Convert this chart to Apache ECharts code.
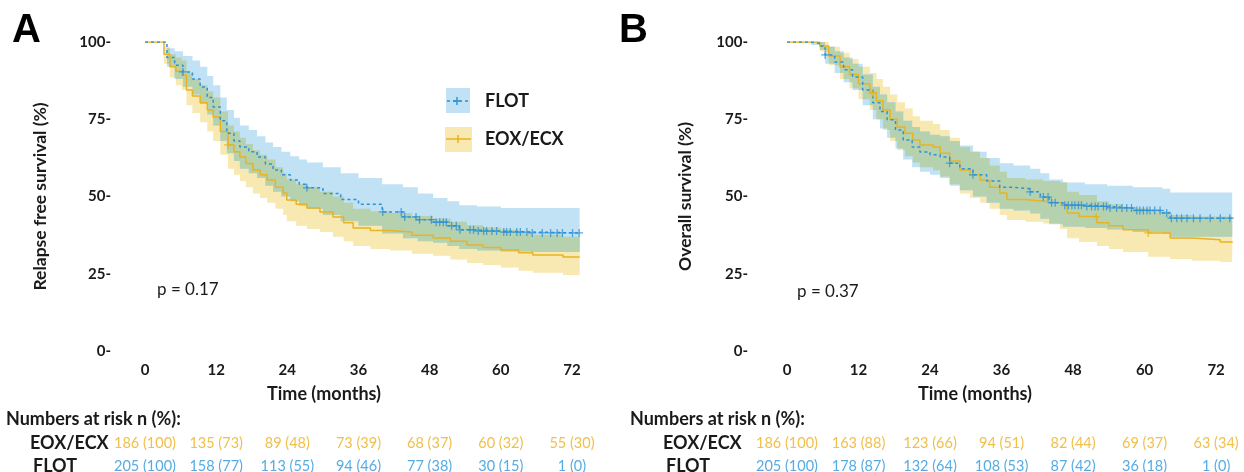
<!DOCTYPE html>
<html><head><meta charset="utf-8">
<script src="https://cdn.jsdelivr.net/npm/echarts@6/dist/echarts.min.js"></script>
<style>html,body{margin:0;padding:0;background:#fff}#c{width:1244px;height:472px}</style>
</head><body><div id="c"></div>
<script>
// ---------- Panel A: Relapse free survival ----------
const A_FLOT_t = [0,2.4,3.7,5,6.4,8,9.3,10.5,11.5,12.7,13.8,15,16,17.5,18.9,20.3,21.6,23,24.5,26,27.3,30,33,36,40,43.5,46,48.6,51,53,56,60,65,73.3];
const A_FLOT_s = [100,100,95,92.5,90.3,88,85.4,82,79,74.5,70.5,68,66,64.5,62.8,60.5,58.6,57,55.3,54,52.8,51,49,47.5,45,43.4,42.5,41.7,40.5,39.2,38.8,38.5,38.2,38.2];
const A_FLOT_hi = [100,100,98,97,95.5,94,92,89,86,82,78,75.5,73,71.5,69.5,67.5,66,64.5,63,62,61,59.5,57.5,56,54,53,51,49.5,48.5,47.2,46.8,46.3,46.3,46.3];
const A_FLOT_lo = [100,100,92,88,85.5,83,80,76.5,73,68,64,61.5,59,57.5,56,53.5,51.5,50,48.5,47,46,44,42,40.5,38,36.5,35.5,35,34,33,32.5,32.2,32,32];
const A_FLOT_cens = [6.4,27.3,40.1,43.2,43.8,45.7,46.3,48.3,49.1,49.7,50.3,50.8,51.7,52.5,53.1,54.8,55.4,56.2,57.1,57.6,58.5,59.3,60.5,61,61.6,62.7,63.3,64.4,65.3,67,68.4,69.5,70.4,72.1,73.2];

const A_EOX_t = [0,2.4,3.2,4.2,5.2,6.2,7,8,9.3,10.5,11.5,12.7,14,15,16,17,18.2,19.4,20.6,22,23.3,23.9,25.5,27.3,29.5,31.7,33.5,35.1,38,41.3,45,48.6,51.5,54.3,57,60,63,65.4,70.5,73.3];
const A_EOX_s = [100,100,96,92,90.5,89.3,84.5,82.5,80.3,78,75.7,71,66.7,64.5,62.8,60.7,58.6,57,55.3,53,51.1,48.9,47.5,46.3,45,43.4,41.5,39.8,39,38.5,37.5,36.6,35.5,34.3,33.5,32.7,31.8,31.1,30.4,30.4];
const A_EOX_hi = [100,100,98.5,96,95,94,90,88,86,84,82,77.5,73,71,69,67,65,63.5,62,59.5,57.5,55.5,54,53,51.5,50,48,46,45.2,44.7,43.7,42.8,41.8,40.7,40,39.2,38.3,37.6,37,37];
const A_EOX_lo = [100,100,93,88.5,86,84.5,79.5,77,74,71,68,63.5,59,57,55,53,51,49.5,48,46,44,42,40.5,39.5,38.5,37,35.5,34,33,32.5,31.5,30.8,29.6,28.5,27.8,27,26,25.3,24.6,24.6];
const A_EOX_cens = [14];

// ---------- Panel B: Overall survival ----------
const B_FLOT_t = [0,4,5.5,6.4,8,9.5,11,12.7,14.4,15.6,16.8,18.2,19.5,21,22.3,24,25.7,27.3,29,31.2,33.5,35.7,38,40.8,42.5,44,46.3,50,53.7,58,63,64.3,74.7];
const B_FLOT_s = [100,99.5,98.7,95.8,93.5,91,88.7,84.5,80.3,77.5,74.8,71.5,68.3,66,64.4,63.5,62.8,60.8,59,57,55,53,52.5,51.5,49.8,48,47.2,46.8,46.3,45.5,44.7,43,43];
const B_FLOT_hi = [100,100,100,98.5,97,95,93,89.5,85.5,83,80.5,77.5,74.5,72.5,71,70,69.5,68,66.5,64.5,62.5,60.8,60,59,57.5,55.5,54.5,54,53.5,53,52.5,51.3,51.3];
const B_FLOT_lo = [100,99,97.5,93,90,87,84.5,79.5,75,72,69,65.5,62,59.5,58,57,56,53.5,52,50,48,46,45.5,44.5,42.8,41,40.2,39.8,39.3,38.5,38,37,37];
const B_FLOT_cens = [6.4,27.3,31.2,40.8,43,43.8,44.4,45,46.6,47.2,47.8,48.3,48.9,49.4,50.3,51.1,51.7,52.2,53.1,53.6,54.2,55.3,56.2,57,57.8,58.7,59.2,59.8,60.4,60.9,61.7,62.6,63.7,64.5,65.4,66.2,67.1,68.2,69.3,71,72.7,74.3];

const B_EOX_t = [0,5.5,7,8.9,10.5,12,13.9,15,16.1,17.3,18.5,19.8,21.1,22.3,24.5,25.7,27.3,29,30.7,32.4,34,35.7,36.9,40,43,45.8,47,49,52,54,56.4,60.6,64.3,68,72.7,74.7];
const B_EOX_s = [100,98.7,95.5,92,89.5,86.5,83.5,81,78,75,72.5,70.5,68.3,66.7,66,64,61.5,58.6,57,55.3,53,51.1,49,48.5,48,47.6,44.7,43.5,41.5,40.5,39.2,38.2,36.6,36,35.3,35];
const B_EOX_hi = [100,100,98.5,96.5,94.5,92,90,88,85.5,83,80.5,78.5,76,74.5,73.5,71.5,69,66,64.5,62.5,60,58,56,55.5,55,54.5,51.5,50.5,48.5,47.5,46.2,45.2,44,43.5,43.5,43.5];
const B_EOX_lo = [100,97,92.5,88,85,81.5,78,75,71.5,68,65,63,61,59.5,58.5,56.5,54,51,49.5,48,46,44,42.4,41.8,41.3,39.5,36.5,35.3,34,33,32,30.5,29.8,29.2,28.8,28.8];
const B_EOX_cens = [14.3,51.9,60.6];

// ---------- Numbers at risk ----------
const riskTimes = [0,12,24,36,48,60,72];
const A_EOX_n = [186,135,89,73,68,60,55];
const A_EOX_pct = [100,73,48,39,37,32,30];
const A_FLOT_n = [205,158,113,94,77,30,1];
const A_FLOT_pct = [100,77,55,46,38,15,0];
const B_EOX_n = [186,163,123,94,82,69,63];
const B_EOX_pct = [100,88,66,51,44,37,34];
const B_FLOT_n = [205,178,132,108,87,36,1];
const B_FLOT_pct = [100,87,64,53,42,18,0];

const xTicks = [0,12,24,36,48,60,72];
const yTicks = [0,25,50,75,100];
const pValues = ['p = 0.17','p = 0.37'];
const yTitles = ['Relapse free survival (%)','Overall survival (%)'];

const BLUE = '#2e92d6', GOLD = '#e9b321';
const BLUE_BAND = '#c1e1f5', GOLD_BAND = '#f8e8b2', OVERLAP = '#b6d1ae';
const BLUE_TXT = '#55ace4', GOLD_TXT = '#f1c04a';
const FONT = 'Lato';
const CROSS = 'path://M-0.16,-1H0.16V-0.16H1V0.16H0.16V1H-0.16V0.16H-1V-0.16H-0.16Z';

function stepAt(ts, vs, t){ let v = vs[0]; for (let i=0;i<ts.length;i++){ if (ts[i] <= t) v = vs[i]; else break; } return v; }

// overlap of two step-function confidence bands (derived from the band arrays)
function overlap(t1, lo1, hi1, t2, lo2, hi2){
  const end = Math.min(t1[t1.length-1], t2[t2.length-1]);
  const T = Array.from(new Set(t1.concat(t2))).filter(t => t <= end).sort((a,b)=>a-b);
  const hi = [], lo = [];
  T.forEach(t => {
    const h = Math.min(stepAt(t1,hi1,t), stepAt(t2,hi2,t));
    const l = Math.max(stepAt(t1,lo1,t), stepAt(t2,lo2,t));
    hi.push(Math.max(h,l)); lo.push(l);
  });
  return {t:T, lo:lo, hi:hi};
}

function band(gi, ts, lo, hi, color, z){
  return { type:'custom', xAxisIndex:gi, yAxisIndex:gi, z:z, silent:true, clip:true, data:[[0,0]],
    renderItem:function(p, api){
      const pts = [];
      for (let i=0;i<ts.length;i++){ if (i>0) pts.push(api.coord([ts[i],hi[i-1]])); pts.push(api.coord([ts[i],hi[i]])); }
      for (let i=ts.length-1;i>=0;i--){ pts.push(api.coord([ts[i],lo[i]])); if (i>0) pts.push(api.coord([ts[i],lo[i-1]])); }
      return { type:'polygon', shape:{points:pts}, style:{fill:color} };
    } };
}
function curve(gi, ts, ss, color, dashed){
  return { type:'line', xAxisIndex:gi, yAxisIndex:gi, step:'end', symbol:'none', z:5, silent:true,
    data: ts.map((t,i)=>[t, ss[i]]),
    lineStyle:{color:color, width:1.5, type: dashed ? [3,3] : 'solid'} };
}
function censor(gi, cens, ts, ss, color){
  return { type:'scatter', xAxisIndex:gi, yAxisIndex:gi, z:6, silent:true, symbol:CROSS, symbolSize:8,
    data: cens.map(t=>[t, stepAt(ts, ss, t)]), itemStyle:{color:color} };
}

function xAxis(gi){
  return { gridIndex:gi, type:'value', min:0, max:75, interval:12,
    axisLine:{show:false}, axisTick:{show:false}, splitLine:{show:false},
    axisLabel:{ color:'#1a1a1a', fontFamily:FONT, fontWeight:'bold', fontSize:15, margin:12,
      formatter: v => xTicks.indexOf(v) >= 0 ? String(v) : '' } };
}
function yAxis(gi){
  return { gridIndex:gi, type:'value', min:0, max:100, interval:25,
    axisLine:{show:false}, axisTick:{show:false}, splitLine:{show:false},
    name: yTitles[gi], nameLocation:'middle', nameGap: gi===0 ? 96 : 93,
    nameTextStyle:{ color:'#1a1a1a', fontFamily:FONT, fontWeight:'bold', fontSize:17.5 },
    axisLabel:{ color:'#1a1a1a', fontFamily:FONT, fontWeight:'bold', fontSize:15, margin: gi===0 ? 34 : 39,
      formatter: v => yTicks.indexOf(v) >= 0 ? v + '-' : '' } };
}

const OA = overlap(A_EOX_t, A_EOX_lo, A_EOX_hi, A_FLOT_t, A_FLOT_lo, A_FLOT_hi);
const OB = overlap(B_EOX_t, B_EOX_lo, B_EOX_hi, B_FLOT_t, B_FLOT_lo, B_FLOT_hi);

const chart = echarts.init(document.getElementById('c'), null, {renderer:'canvas'});
chart.setOption({
  backgroundColor:'#ffffff',
  animation:false,
  grid:[ {left:145, top:42, width:444.75, height:309}, {left:787, top:42, width:447, height:309} ],
  xAxis:[xAxis(0), xAxis(1)],
  yAxis:[yAxis(0), yAxis(1)],
  series:[
    band(0, A_EOX_t, A_EOX_lo, A_EOX_hi, GOLD_BAND, 1),
    band(0, A_FLOT_t, A_FLOT_lo, A_FLOT_hi, BLUE_BAND, 2),
    band(0, OA.t, OA.lo, OA.hi, OVERLAP, 3),
    curve(0, A_EOX_t, A_EOX_s, GOLD, false),
    curve(0, A_FLOT_t, A_FLOT_s, BLUE, true),
    censor(0, A_EOX_cens, A_EOX_t, A_EOX_s, GOLD),
    censor(0, A_FLOT_cens, A_FLOT_t, A_FLOT_s, BLUE),
    band(1, B_EOX_t, B_EOX_lo, B_EOX_hi, GOLD_BAND, 1),
    band(1, B_FLOT_t, B_FLOT_lo, B_FLOT_hi, BLUE_BAND, 2),
    band(1, OB.t, OB.lo, OB.hi, OVERLAP, 3),
    curve(1, B_EOX_t, B_EOX_s, GOLD, false),
    curve(1, B_FLOT_t, B_FLOT_s, BLUE, true),
    censor(1, B_EOX_cens, B_EOX_t, B_EOX_s, GOLD),
    censor(1, B_FLOT_cens, B_FLOT_t, B_FLOT_s, BLUE)
  ]
});

// ---------- text & legend graphics ----------
const g = [];
function txt(x, y, s, o){ g.push({ type:'text', x:x, y:y, silent:true,
  style:Object.assign({ text:s, fill:'#1a1a1a', font:'bold 16px ' + FONT, textAlign:'left', textVerticalAlign:'middle' }, o || {}) }); }
function seg(x1, y1, x2, y2, color, dash){ g.push({ type:'line', silent:true, shape:{x1:x1,y1:y1,x2:x2,y2:y2},
  style:{stroke:color, lineWidth:1.5, lineDash: dash || null} }); }

txt(12, 31, 'A', {font:'bold 40px "Liberation Sans"', fill:'#000'});
txt(619, 31, 'B', {font:'bold 40px "Liberation Sans"', fill:'#000'});
txt(157, 290, pValues[0], {font:'17px ' + FONT});
txt(797, 292, pValues[1], {font:'17px ' + FONT});

// x-axis titles
txt(324, 394, 'Time (months)', {textAlign:'center', font:'bold 18px ' + FONT});
txt(975, 394, 'Time (months)', {textAlign:'center', font:'bold 18px ' + FONT});

// legend
g.push({type:'rect', silent:true, shape:{x:446, y:88, width:24, height:25}, style:{fill:BLUE_BAND}});
seg(447, 101, 469, 101, BLUE, [3,3]);
seg(457, 97, 457, 105, BLUE); seg(453, 101, 461, 101, BLUE);
txt(485, 101, 'FLOT', {font:'bold 18px ' + FONT});
g.push({type:'rect', silent:true, shape:{x:445, y:127, width:27, height:25}, style:{fill:GOLD_BAND}});
seg(446, 139, 471, 139, GOLD);
seg(458, 135, 458, 143, GOLD);
txt(485, 139, 'EOX/ECX', {font:'bold 18px ' + FONT});

// numbers at risk
const tables = [
  {gi:0, hx:6, lx:30, eN:A_EOX_n, eP:A_EOX_pct, fN:A_FLOT_n, fP:A_FLOT_pct},
  {gi:1, hx:630, lx:663, eN:B_EOX_n, eP:B_EOX_pct, fN:B_FLOT_n, fP:B_FLOT_pct}
];
tables.forEach(tb => {
  txt(tb.hx, 419, 'Numbers at risk n (%):', {font:'bold 18px ' + FONT});
  txt(tb.lx, 443, 'EOX/ECX', {font:'bold 18px ' + FONT});
  txt(tb.lx + 3, 466, 'FLOT', {font:'bold 18px ' + FONT});
  riskTimes.forEach((t, i) => {
    const x = chart.convertToPixel({xAxisIndex:tb.gi}, t);
    txt(x, 443, tb.eN[i] + ' (' + tb.eP[i] + ')', {font:'14.5px ' + FONT, fill:GOLD_TXT, textAlign:'center'});
    txt(x, 466, tb.fN[i] + ' (' + tb.fP[i] + ')', {font:'14.5px ' + FONT, fill:BLUE_TXT, textAlign:'center'});
  });
});
chart.setOption({graphic: g});
</script></body></html>
